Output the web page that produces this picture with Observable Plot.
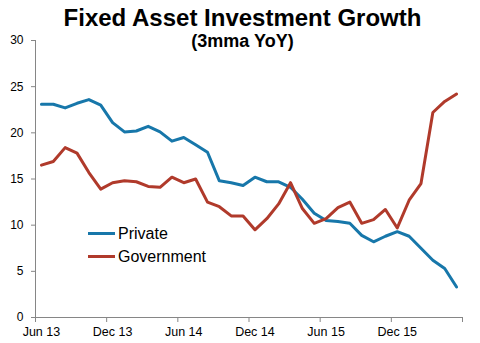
<!DOCTYPE html>
<html>
<head>
<meta charset="utf-8">
<script src="https://cdn.jsdelivr.net/npm/d3@7"></script>
<script src="https://cdn.jsdelivr.net/npm/@observablehq/plot@0.6"></script>
<style>
  html, body { margin: 0; padding: 0; background: #fff; }
  #wrap { position: relative; width: 480px; height: 343px; font-family: Arial, "Liberation Sans", sans-serif; }
  #title { position: absolute; left: 0; width: 485px; top: 6px; text-align: center; font-weight: bold; font-size: 24px; line-height: 24px; color: #000; }
  #subtitle { position: absolute; left: 0; width: 485px; top: 32px; text-align: center; font-weight: bold; font-size: 18px; line-height: 19px; color: #000; }
  #legend { position: absolute; left: 88px; top: 224px; font-size: 16px; color: #000; }
  .item { height: 23px; line-height: 20px; white-space: nowrap; }
  .sw { display: inline-block; width: 27px; height: 3px; vertical-align: middle; margin-right: 3px; position: relative; top: -1px; }
  #chart { position: absolute; left: 0; top: 0; }
</style>
</head>
<body>
<div id="wrap">
  <div id="chart"></div>
  <div id="title">Fixed Asset Investment Growth</div>
  <div id="subtitle">(3mma YoY)</div>
  <div id="legend"></div>
</div>
<script>
// Months Jun 13 .. May 16 (index 0..35)
const months = ["Jun 13","Jul 13","Aug 13","Sep 13","Oct 13","Nov 13","Dec 13","Jan 14","Feb 14","Mar 14","Apr 14","May 14",
                "Jun 14","Jul 14","Aug 14","Sep 14","Oct 14","Nov 14","Dec 14","Jan 15","Feb 15","Mar 15","Apr 15","May 15",
                "Jun 15","Jul 15","Aug 15","Sep 15","Oct 15","Nov 15","Dec 15","Jan 16","Feb 16","Mar 16","Apr 16","May 16"];
const privateVals = [23.1,23.1,22.7,23.2,23.6,23.0,21.1,20.1,20.2,20.7,20.1,19.1,
                     19.5,18.7,17.9,14.8,14.6,14.3,15.2,14.7,14.7,14.1,12.8,11.3,
                     10.5,10.4,10.2,8.9,8.2,8.8,9.3,8.8,7.5,6.2,5.3,3.3];
const governmentVals = [16.5,16.9,18.4,17.8,15.7,13.9,14.6,14.8,14.7,14.2,14.1,15.2,
                        14.6,15.0,12.5,12.0,11.0,11.0,9.5,10.7,12.3,14.6,11.8,10.2,
                        10.7,11.9,12.5,10.2,10.6,11.7,9.7,12.7,14.5,22.2,23.4,24.2];
const seriesNames = ["Private", "Government"];
const seriesColors = ["#1777AA", "#B03A2B"];
const yTicks = [0, 5, 10, 15, 20, 25, 30];
const xTickIdx = [0, 6, 12, 18, 24, 30, 36];
const xLabels = ["Jun 13", "Dec 13", "Jun 14", "Dec 14", "Jun 15", "Dec 15"];

const data = [];
months.forEach((m, i) => {
  data.push({series: "Private", i: i + 0.5, v: privateVals[i]});
  data.push({series: "Government", i: i + 0.5, v: governmentVals[i]});
});
const labelPos = xLabels.map((l, k) => xTickIdx[k] + 0.5);

const axisColor = "#868686";
const chart = Plot.plot({
  width: 480,
  height: 343,
  marginLeft: 35,
  marginRight: 18,
  marginTop: 40,
  marginBottom: 26,
  style: {fontFamily: "Arial, 'Liberation Sans', sans-serif", fontSize: "12px", color: "#000", background: "transparent"},
  x: {domain: [0, 36], axis: null},
  y: {domain: [0, 30], axis: null},
  color: {domain: seriesNames, range: seriesColors},
  marks: [
    Plot.axisY(yTicks, {tickSize: 4, stroke: axisColor, tickPadding: 8, fill: "#000", fontSize: 12, label: null}),
    Plot.axisX(xTickIdx, {tickSize: 5, stroke: axisColor, tickFormat: () => "", label: null}),
    Plot.axisX(labelPos, {tickSize: 0, tickPadding: 10, tickFormat: (d) => xLabels[labelPos.indexOf(d)], fill: "#000", fontSize: 12.5, label: null}),
    Plot.ruleX([0], {stroke: axisColor}),
    Plot.ruleY([0], {stroke: axisColor}),
    Plot.line(data, {x: "i", y: "v", z: "series", stroke: "series", strokeWidth: 3, strokeLinejoin: "round"})
  ]
});
document.getElementById("chart").appendChild(chart);

const legend = document.getElementById("legend");
seriesNames.forEach((n, k) => {
  const d = document.createElement("div");
  d.className = "item";
  d.innerHTML = `<span class="sw" style="background:${seriesColors[k]}"></span>${n}`;
  legend.appendChild(d);
});
</script>
</body>
</html>
